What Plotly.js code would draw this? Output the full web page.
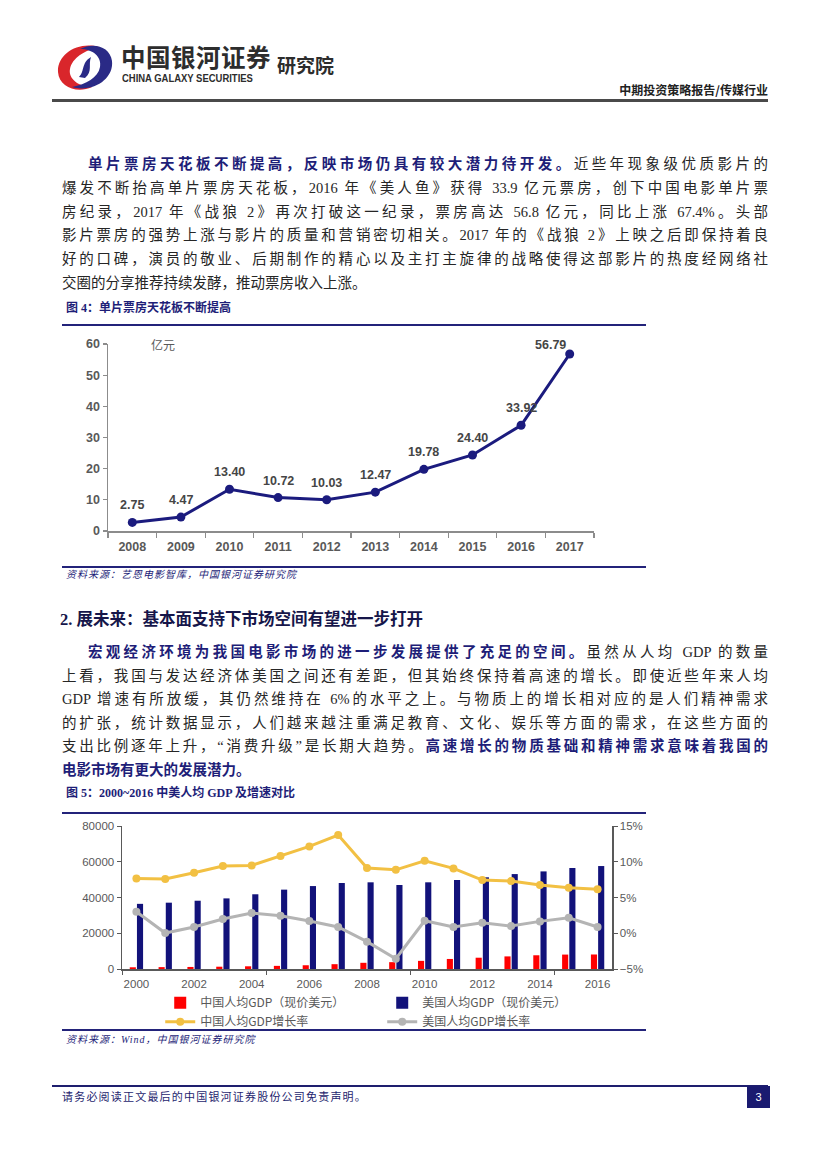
<!DOCTYPE html>
<html><head><meta charset="utf-8">
<script src="https://cdn.plot.ly/plotly-3.0.1.min.js"></script>
<style>
body{margin:0;background:#fff;}
#page{position:relative;width:827px;height:1169px;overflow:hidden;background:#fff;font-family:"Liberation Serif","Noto Sans CJK SC",serif;}
.abs{position:absolute;}
.ln{position:absolute;left:62px;width:706px;font-size:14.5px;line-height:20px;height:20px;color:#262626;text-align:justify;text-align-last:justify;}
.ln.first{left:88px;width:680px;}
.ln.last{text-align-last:left;}
.b{font-weight:bold;color:#1e1e78;}
.rule{position:absolute;left:62px;width:584px;height:2px;background:#23237a;}
.cap{position:absolute;left:66px;font-size:12px;font-weight:bold;color:#1e1e78;line-height:16px;}
.src{position:absolute;left:66px;font-size:10px;font-style:italic;color:#1e1e78;letter-spacing:1px;line-height:14px;}
</style></head>
<body>
<div id="page">
  <!-- header -->
  <svg class="abs" style="left:55px;top:41px" width="60" height="52" viewBox="0 0 60 52">
    <path d="M44,6 C22,0 2,14 3,31 C4,46 22,53 37,46 C24,46 13,38 15,28 C17,17 30,9 44,6 Z" fill="#d9262b"/>
    <path d="M17,46 C38,52 59,38 57,20 C55,5 38,1 25,8 C38,8 47,16 45,26 C43,37 31,43 17,46 Z" fill="#2a2a86"/>
    <path d="M24,36 C30,30 26,22 36,16 C33,24 38,30 30,37 Z" fill="#2a2a86"/>
  </svg>
  <div class="abs" style="left:121px;top:42px;font-family:'Noto Sans CJK SC';font-weight:bold;font-size:24.5px;color:#2d2d2d;line-height:30px;letter-spacing:0.5px;">中国银河证券</div>
  <div class="abs" style="left:122px;top:72px;font-family:'Liberation Sans';font-weight:bold;font-size:11px;color:#2d2d2d;line-height:13px;transform:scaleX(0.86);transform-origin:left top;white-space:nowrap;">CHINA GALAXY SECURITIES</div>
  <div class="abs" style="left:277px;top:53px;font-family:'Noto Sans CJK SC';font-weight:bold;font-size:19px;color:#2d2d2d;line-height:24px;">研究院</div>
  <div class="abs" style="right:59px;top:82px;font-family:'Noto Sans CJK SC';font-weight:bold;font-size:12px;color:#222;line-height:16px;">中期投资策略报告/传媒行业</div>
  <div class="abs" style="left:52px;top:99px;width:716px;height:3px;background:#4a4a4a;"></div>

  <!-- paragraph 1 -->
  <div class="ln first" style="top:154px;"><span class="b">单片票房天花板不断提高，反映市场仍具有较大潜力待开发。</span>近些年现象级优质影片的</div>
  <div class="ln" style="top:178px;">爆发不断抬高单片票房天花板，2016 年《美人鱼》获得 33.9 亿元票房，创下中国电影单片票</div>
  <div class="ln" style="top:202px;">房纪录，2017 年《战狼 2》再次打破这一纪录，票房高达 56.8 亿元，同比上涨 67.4%。头部</div>
  <div class="ln" style="top:225px;">影片票房的强势上涨与影片的质量和营销密切相关。2017 年的《战狼 2》上映之后即保持着良</div>
  <div class="ln" style="top:249px;">好的口碑，演员的敬业、后期制作的精心以及主打主旋律的战略使得这部影片的热度经网络社</div>
  <div class="ln last" style="top:273px;">交圈的分享推荐持续发酵，推动票房收入上涨。</div>

  <div class="cap" style="top:300px;">图 4：单片票房天花板不断提高</div>
  <div class="rule" style="top:324px;"></div>
  <div id="c1" class="abs" style="left:0;top:330px;width:827px;height:240px;"></div>
  <div class="rule" style="top:566px;"></div>
  <div class="src" style="top:568px;">资料来源：艺恩电影智库，中国银河证券研究院</div>

  <!-- section 2 -->
  <div class="abs" style="left:60px;top:609px;font-family:'Liberation Serif','Noto Sans CJK SC';font-weight:bold;font-size:16.5px;color:#16164a;line-height:22px;">2. 展未来：基本面支持下市场空间有望进一步打开</div>

  <div class="ln first" style="top:642px;"><span class="b">宏观经济环境为我国电影市场的进一步发展提供了充足的空间。</span>虽然从人均 GDP 的数量</div>
  <div class="ln" style="top:665.5px;">上看，我国与发达经济体美国之间还有差距，但其始终保持着高速的增长。即使近些年来人均</div>
  <div class="ln" style="top:689px;">GDP 增速有所放缓，其仍然维持在 6%的水平之上。与物质上的增长相对应的是人们精神需求</div>
  <div class="ln" style="top:712.5px;">的扩张，统计数据显示，人们越来越注重满足教育、文化、娱乐等方面的需求，在这些方面的</div>
  <div class="ln" style="top:736px;">支出比例逐年上升，“消费升级”是长期大趋势。<span class="b">高速增长的物质基础和精神需求意味着我国的</span></div>
  <div class="ln last" style="top:759.5px;"><span class="b">电影市场有更大的发展潜力。</span></div>

  <div class="cap" style="top:785px;">图 5：2000~2016 中美人均 GDP 及增速对比</div>
  <div class="rule" style="top:812px;"></div>
  <div id="c2" class="abs" style="left:0;top:815px;width:827px;height:230px;"></div>
  <div class="rule" style="top:1029px;"></div>
  <div class="src" style="top:1033px;">资料来源：Wind，中国银河证券研究院</div>

  <!-- footer -->
  <div class="abs" style="left:52px;top:1085px;width:716px;height:2px;background:#1e1e6e;"></div>
  <div class="abs" style="left:62px;top:1090px;font-size:11px;color:#1e1e6e;letter-spacing:1.2px;line-height:14px;">请务必阅读正文最后的中国银河证券股份公司免责声明。</div>
  <div class="abs" style="left:747px;top:1086px;width:23px;height:22px;background:#1a1a70;color:#fff;font-family:'Liberation Sans';font-size:11px;line-height:22px;text-align:center;">3</div>
</div>

<script>
// ---- Chart 1 data: single-film box office record (亿元)
const years1 = ['2008','2009','2010','2011','2012','2013','2014','2015','2016','2017'];
const boxOffice = [2.75, 4.47, 13.40, 10.72, 10.03, 12.47, 19.78, 24.40, 33.92, 56.79];

// ---- Chart 2 data: China / US GDP per capita and growth
const years2 = [2000,2001,2002,2003,2004,2005,2006,2007,2008,2009,2010,2011,2012,2013,2014,2015,2016];
const chinaGDP = [959,1053,1149,1289,1509,1753,2099,2694,3468,3832,4550,5618,6317,7051,7679,8069,8117];
const usGDP = [36450,37100,38200,39500,41800,44400,46400,48100,48500,47000,48500,49800,51300,53100,54600,56500,57600];
const chinaGrowth = [7.67,7.58,8.46,9.39,9.49,10.8,12.15,13.73,9.12,8.87,10.14,9.07,7.44,7.30,6.74,6.37,6.14];
const usGrowth = [3.01,0.03,0.87,1.99,2.82,2.45,1.71,0.87,-1.18,-3.56,1.75,0.87,1.47,1.00,1.66,2.17,0.87];
const legendNames = ['中国人均GDP（现价美元）','美国人均GDP（现价美元）','中国人均GDP增长率','美国人均GDP增长率'];

const navy = '#1b1b7e';
const tickGray = '#595959';
const axisGray = '#8c8c8c';

// Chart 1 (category index used for annotation positions)
const labelAnn = years1.map((yr, i) => ({
  x: i, y: boxOffice[i], xref: 'x', yref: 'y',
  text: boxOffice[i].toFixed(2), showarrow: false,
  yshift: i === years1.length - 1 ? 9 : 17,
  xshift: i === years1.length - 1 ? -19 : 0,
  font: {family: 'Liberation Sans', size: 12.5, color: '#454545', weight: 'bold'}
}));
labelAnn.push({
  xref: 'paper', yref: 'paper', x: 0.085, y: 1, xanchor: 'left', yanchor: 'middle',
  text: '亿元', showarrow: false,
  font: {family: 'Noto Sans CJK SC', size: 12, color: tickGray}
});

Plotly.newPlot('c1', [{
  x: years1, y: boxOffice, type: 'scatter', mode: 'lines+markers',
  line: {color: navy, width: 3}, marker: {size: 9, color: navy},
  cliponaxis: false, hoverinfo: 'none'
}], {
  width: 827, height: 240,
  margin: {l: 108, r: 233, t: 14, b: 39, autoexpand: false},
  paper_bgcolor: 'rgba(0,0,0,0)', plot_bgcolor: 'rgba(0,0,0,0)',
  showlegend: false,
  xaxis: {
    type: 'category', categoryorder: 'array', categoryarray: years1,
    range: [-0.5, years1.length - 0.5], autorange: false,
    showline: true, linecolor: axisGray, linewidth: 1.5,
    ticks: 'outside', tickson: 'boundaries', ticklen: 5, tickcolor: axisGray, tickwidth: 1.2,
    ticklabelstandoff: 3,
    showgrid: false, zeroline: false,
    tickfont: {family: 'Liberation Sans', size: 12.5, color: tickGray, weight: 'bold'}
  },
  yaxis: {
    range: [0, 60], autorange: false, dtick: 10, showline: true, linecolor: axisGray, linewidth: 1.5,
    ticks: 'outside', ticklen: 4, tickcolor: axisGray, tickwidth: 1.2,
    showgrid: false, zeroline: false,
    tickfont: {family: 'Liberation Sans', size: 12.5, color: tickGray, weight: 'bold'}
  },
  annotations: labelAnn
}, {staticPlot: true, displayModeBar: false});

// Chart 2
const tickFont2 = {family: 'Liberation Sans', size: 11.5, color: tickGray};
Plotly.newPlot('c2', [
  {x: years2, y: chinaGDP, type: 'bar', name: legendNames[0], marker: {color: '#ff0000'}, hoverinfo: 'none'},
  {x: years2, y: usGDP, type: 'bar', name: legendNames[1], marker: {color: '#12127a'}, hoverinfo: 'none'},
  {x: years2, y: chinaGrowth, type: 'scatter', mode: 'lines+markers', yaxis: 'y2', name: legendNames[2],
   line: {color: '#f2c043', width: 3}, marker: {size: 8, color: '#f2c043'}, hoverinfo: 'none'},
  {x: years2, y: usGrowth, type: 'scatter', mode: 'lines+markers', yaxis: 'y2', name: legendNames[3],
   line: {color: '#b4b4b4', width: 3}, marker: {size: 8, color: '#b4b4b4'}, hoverinfo: 'none'}
], {
  width: 827, height: 230,
  margin: {l: 122, r: 215, t: 11, b: 76, autoexpand: false},
  paper_bgcolor: 'rgba(0,0,0,0)', plot_bgcolor: 'rgba(0,0,0,0)',
  barmode: 'group', bargap: 0.5, bargroupgap: 0.15,
  xaxis: {
    type: 'linear', range: [1999.5, 2016.5], autorange: false,
    tickvals: [2000,2002,2004,2006,2008,2010,2012,2014,2016],
    ticks: '', showline: true, linecolor: '#595959', linewidth: 1.5, showgrid: false, zeroline: false,
    tickfont: tickFont2, ticklabelstandoff: 4,
    minor: {tick0: 1999.5, dtick: 5, ticks: 'outside', ticklen: 4, tickcolor: '#595959', showgrid: false}
  },
  yaxis: {
    range: [0, 80000], autorange: false, dtick: 20000, tickformat: 'd', showline: true, linecolor: '#595959', linewidth: 1.5,
    ticks: 'outside', ticklen: 4, tickcolor: '#595959', showgrid: false, zeroline: false,
    tickfont: tickFont2
  },
  yaxis2: {
    range: [-5, 15], autorange: false, dtick: 5, ticksuffix: '%', overlaying: 'y', side: 'right',
    showline: true, linecolor: '#595959', linewidth: 1.5,
    ticks: 'outside', ticklen: 4, tickcolor: '#595959', showgrid: false, zeroline: false,
    tickfont: tickFont2
  },
  showlegend: true,
  legend: {
    orientation: 'h', x: 0.078, xanchor: 'left', y: -0.135, yanchor: 'top',
    entrywidth: 177, entrywidthmode: 'pixels', itemwidth: 30, tracegroupgap: 0,
    bgcolor: 'rgba(0,0,0,0)',
    font: {family: 'Noto Sans CJK SC', size: 12, color: tickGray}
  }
}, {staticPlot: true, displayModeBar: false});
</script>
</body></html>
